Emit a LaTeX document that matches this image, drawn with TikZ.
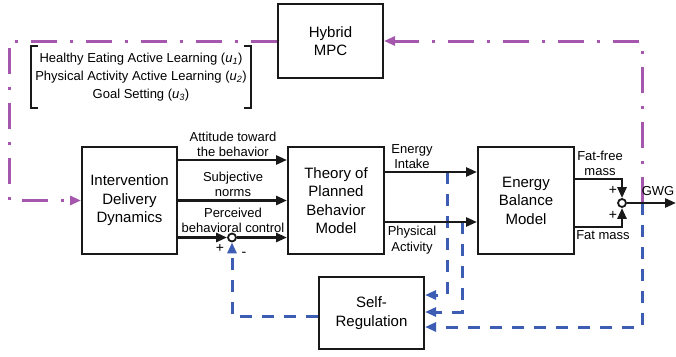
\documentclass[tikz,border=0pt]{standalone}
\usepackage{fontspec}
\setmainfont{Liberation Sans}
\usepackage{tikz}
\usetikzlibrary{positioning,arrows.meta,calc}
\definecolor{mpcpurple}{HTML}{A457AC}
\definecolor{fbblue}{HTML}{3D5DB5}

\begin{document}
\begin{tikzpicture}[
  x=1pt, y=-1pt,
  font=\fontsize{15}{18.5}\selectfont,
  >={Triangle[length=11pt,width=9pt]},
  blk/.style={draw=black!90, line width=2pt, fill=white, align=center, inner sep=2pt},
  sig/.style={->, draw=black!90, line width=2.6pt},
  fb/.style={->, draw=fbblue, line width=3pt, dash pattern=on 12pt off 10pt},
  mpc/.style={->, draw=mpcpurple, line width=3pt,
              dash pattern=on 26pt off 13pt on 3pt off 13pt},
  sum/.style={circle, draw=black!90, line width=1.8pt, fill=white, inner sep=0pt,
              minimum size=8pt},
  lbl/.style={font=\fontsize{13}{15.5}\selectfont, align=center, inner sep=1pt},
  lst/.style={font=\fontsize{13}{18}\selectfont, align=center,
              inner xsep=4.5pt, inner ysep=7pt},
  brk/.style={draw=black!90, line width=2pt},
  sgn/.style={font=\fontsize{14}{14}\selectfont, inner sep=0pt}
]
\useasboundingbox (0,0) rectangle (676,356);

% ==== blocks
\node[blk, minimum width=105pt, minimum height=74pt] (hyb) at (330.5,41) {Hybrid\\MPC};
\node[blk, minimum width=95pt, minimum height=107pt] (idd) at (129.5,200.5)
     {Intervention\\Delivery\\Dynamics};
\node[blk, minimum width=96pt, minimum height=107pt] (tpb) at (336,200.5)
     {Theory of\\Planned\\Behavior\\Model};
\node[blk, minimum width=96pt, minimum height=107pt] (ebm) at (526,200.5)
     {Energy\\Balance\\Model};
\node[blk, minimum width=105pt, minimum height=72pt] (sr) at (371.5,313)
     {Self-\\Regulation};

% ==== manipulated inputs, in brackets
\node[lst] (ulist) at (141,77)
     {Healthy Eating Active Learning (\textit{u}\textsubscript{\textit{1}})\\
      Physical Activity Active Learning (\textit{u}\textsubscript{\textit{2}})\\
      Goal Setting (\textit{u}\textsubscript{\textit{3}})};
\draw[brk] ($(ulist.north west)+(7,0)$) -- (ulist.north west) -- (ulist.south west) -- ++(7,0);
\draw[brk] ($(ulist.north east)+(-7,0)$) -- (ulist.north east) -- (ulist.south east) -- ++(-7,0);

% ==== summing junctions and tap points
\node[sum] (pbc) at (232,237.5) {};
\node[sum] (gwg) at (622,203) {};
\coordinate (eitap)  at (447,172);
\coordinate (patap)  at (462,222);
\coordinate (gwgtap) at (642,203);
\coordinate (gwgend) at (676,203);
\coordinate (mpcl)   at (9,0);

% ==== feedback (drawn first, signals sit on top)
\draw[fb] (eitap) |- ($(sr.east)+(0,-18)$);
\draw[fb] (patap) |- ($(sr.east)+(0,-1)$);
\draw[fb] (gwgtap) |- ($(sr.east)+(0,14)$);
\draw[fb] ($(sr.west)+(0,3)$) -| (pbc.south);

% ==== controller loop
\draw[mpc] (gwgtap) |- (hyb.east);
\draw[mpc] (hyb.west) -- (hyb.west -| mpcl) |- (idd.west);

% ==== intervention -> TPB
\draw[sig] ($(idd.east)+(0,-40.5)$) -- ($(tpb.west)+(0,-40.5)$);
\draw[sig] (idd.east) -- (tpb.west);
\draw[sig] ($(idd.east)+(0,37)$) -- (pbc);
\draw[sig] (pbc) -- (pbc -| tpb.west);
\node[lbl, anchor=south] (latt) at (233,158) {Attitude toward\\the behavior};
\node[lbl, anchor=south] (lsub) at (233,198) {Subjective\\norms};
\node[lbl, anchor=south] (lpbc) at (233,234) {Perceived\\behavioral control};
\node[sgn] (pbcp) at (220,248) {+};
\node[sgn] (pbcm) at (244,254) {-};

% ==== TPB -> energy balance
\draw[sig] ($(tpb.east)+(0,-28.5)$) -- ($(ebm.west)+(0,-28.5)$);
\draw[sig] ($(tpb.east)+(0,21.5)$) -- ($(ebm.west)+(0,21.5)$);
\node[lbl, anchor=south] (lei) at (412,170) {Energy\\Intake};
\node[lbl, anchor=north] (lpa) at (412,225) {Physical\\Activity};

% ==== energy balance -> GWG
\draw[sig] ($(ebm.east)+(0,-21.5)$) -| (gwg.north);
\draw[sig] ($(ebm.east)+(0,26.5)$) -| (gwg.south);
\draw[sig] (gwg) -- (gwgend);
\node[lbl, anchor=south] (lffm) at (600,177) {Fat-free\\mass};
\node[lbl, anchor=north] (lfm) at (603,229) {Fat mass};
\node[lbl] (lgwg) at (658,191) {GWG};
\node[sgn] (gwgp1) at (613,190) {+};
\node[sgn] (gwgp2) at (613,215) {+};

\end{tikzpicture}
\end{document}
